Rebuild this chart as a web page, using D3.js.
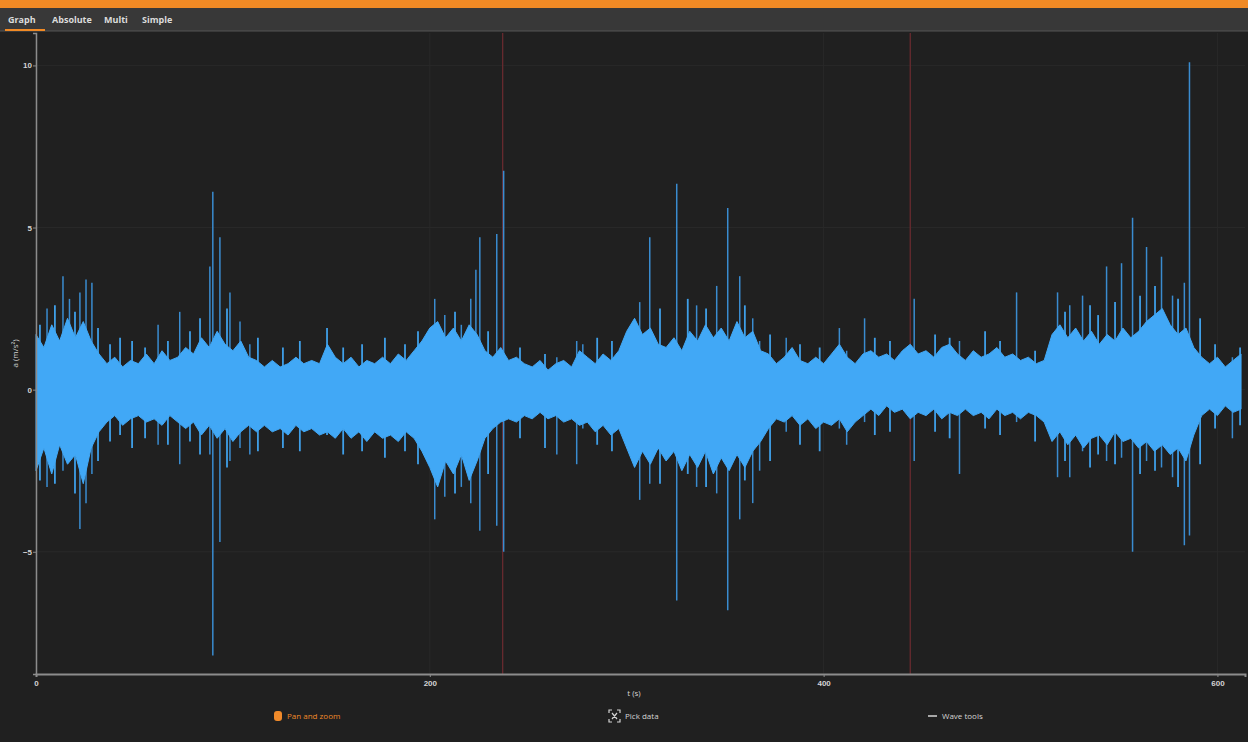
<!DOCTYPE html>
<html>
<head>
<meta charset="utf-8">
<script src="https://cdn.jsdelivr.net/npm/d3@7"></script>
<style>
  html, body { margin: 0; padding: 0; background: #202020; }
  svg { display: block; font-family: "Open Sans", "DejaVu Sans", sans-serif; }
</style>
</head>
<body>
<svg id="graph"></svg>
<script>
// sample times of the envelope (s), every 4 s
const times = d3.range(0, 613, 4);

// upper envelope of the signal (m/s²)
const upper = [
  1.7, 1.3, 2.0, 1.5, 2.2, 1.6, 2.1, 1.5, 1.1, 0.8,
  1.0, 0.7, 0.9, 0.8, 1.1, 0.8, 1.2, 0.9, 1.0, 1.3,
  1.1, 1.6, 1.3, 1.8, 1.4, 1.2, 1.5, 1.0, 0.9, 0.7,
  0.9, 0.7, 0.8, 1.0, 0.8, 0.9, 0.8, 1.4, 1.0, 0.8,
  1.0, 0.7, 0.9, 0.8, 1.0, 0.8, 1.1, 0.9, 1.2, 1.5,
  1.9, 2.1, 1.6, 1.9, 1.5, 2.0, 1.7, 1.2, 1.0, 1.3,
  0.9, 1.0, 0.8, 0.7, 0.9, 0.6, 0.8, 0.9, 0.7, 1.2,
  1.0, 0.8, 1.1, 0.9, 1.2, 1.8, 2.2, 1.7, 1.9, 1.4,
  1.3, 1.6, 1.2, 1.8, 1.5, 2.0, 1.6, 1.9, 1.5, 2.1,
  1.6, 1.8, 1.2, 1.1, 0.8, 1.0, 1.3, 0.9, 0.8, 1.0,
  0.8, 1.1, 1.4, 1.0, 0.8, 1.1, 1.2, 1.0, 1.1, 0.9,
  1.2, 1.4, 1.1, 1.2, 1.0, 1.3, 1.4, 1.1, 0.9, 1.2,
  1.0, 1.1, 1.3, 1.0, 1.1, 0.9, 1.0, 0.8, 0.9, 1.7,
  2.0, 1.6, 1.9, 1.5, 1.8, 1.4, 1.7, 1.5, 1.9, 1.6,
  1.8, 2.1, 2.3, 2.5, 2.0, 1.7, 1.9, 1.3, 1.0, 0.8,
  1.0, 0.7, 0.9, 1.1
];

// lower envelope of the signal (m/s²)
const lower = [
  -2.5, -1.8, -2.6, -1.7, -2.3, -2.0, -2.9, -1.8, -1.3, -1.0,
  -0.8, -1.1, -0.9, -0.8, -1.0, -0.9, -1.1, -0.8, -1.0, -1.2,
  -1.0, -1.4, -1.1, -1.5, -1.2, -1.6, -1.3, -1.1, -1.3, -1.1,
  -1.3, -1.2, -1.4, -1.1, -1.3, -1.2, -1.4, -1.3, -1.5, -1.2,
  -1.5, -1.3, -1.6, -1.3, -1.5, -1.4, -1.6, -1.3, -1.5, -1.9,
  -2.4, -3.0, -2.2, -2.6, -2.0, -2.8, -2.2, -1.5, -1.2, -1.0,
  -0.9, -1.0, -0.8, -0.9, -0.7, -0.9, -0.8, -1.0, -0.9, -1.1,
  -1.0, -1.3, -1.1, -1.4, -1.2, -1.8, -2.4, -1.9, -2.3, -1.8,
  -2.2, -1.9, -2.5, -2.0, -2.4, -1.9, -2.6, -2.1, -2.5, -2.0,
  -2.4, -1.9, -1.6, -1.2, -0.9, -1.0, -0.8, -1.1, -0.9, -1.2,
  -1.0, -1.1, -0.9, -1.3, -1.0, -0.8, -0.6, -0.8, -0.5, -0.7,
  -0.6, -0.9, -0.7, -0.8, -0.6, -0.9, -0.7, -0.8, -0.6, -0.8,
  -0.7, -0.9, -0.6, -0.8, -0.7, -0.9, -0.7, -0.8, -1.0, -1.6,
  -1.3, -1.7, -1.4, -1.8, -1.5, -1.4, -1.7, -1.3, -1.6, -1.5,
  -1.8, -1.6, -1.9, -1.7, -2.0, -1.8, -2.2, -1.4, -0.8, -0.6,
  -0.8, -0.5, -0.7, -0.6
];

// isolated peaks: time (s), max and min (m/s²)
const spikeT  = [5.6, 13.7, 17, 22.3, 25.4, 28.4, 62, 73, 88.3, 89.8, 93.4, 98.5, 103.6, 108.6,
                 202.5, 207.6, 216, 220.8, 223.4, 225.4, 234, 237.5, 264.5, 274.6, 277.7,
                 306.6, 311.7, 325.4, 335.5, 345.7, 351.3, 357.4, 364, 367.5, 381, 408, 411.7,
                 420.8, 446, 469, 498, 518.8, 525, 531.5, 543.7, 551.3, 556.9, 564, 571.6,
                 577.2, 583.2, 585.8, 607.6];
const spikeHi = [2.5, 3.5, 2.8, 3.0, 3.4, 3.3, 2.0, 2.4, 3.8, 6.1, 4.7, 3.0, 2.1, 1.4,
                 2.8, 2.3, 2.0, 2.8, 3.7, 4.7, 4.8, 6.75, 1.0, 1.5, 1.4,
                 2.7, 4.7, 6.35, 2.6, 3.2, 5.6, 3.5, 2.2, 1.5, 1.6, 1.9, 1.2,
                 2.2, 2.8, 1.5, 3.0, 3.0, 2.6, 2.9, 3.8, 3.9, 5.3, 4.4, 4.1,
                 2.9, 3.3, 10.1, 1.0];
const spikeLo = [-3.0, -2.5, -2.0, -4.3, -3.5, -2.6, -1.7, -2.3, -2.0, -8.2, -4.7, -2.2, -1.8, -2.0,
                 -4.0, -3.3, -3.0, -3.5, -2.0, -4.35, -4.2, -5.0, -2.0, -2.3, -1.2,
                 -3.4, -2.9, -6.5, -3.0, -3.2, -6.8, -4.0, -3.5, -2.5, -1.3, -1.2, -1.7,
                 -1.0, -2.2, -2.6, -1.0, -2.7, -2.7, -1.9, -2.2, -2.1, -5.0, -2.2, -2.4,
                 -2.7, -4.8, -4.5, -1.5];

// smaller peaks along the edges of the band: time (s), max and min (m/s²)
const rippleT  = [2, 9.6, 19.8, 31.5, 37.6, 42.7, 48.8, 55.4, 67, 78.2, 83.3, 97, 112.7, 125.4,
                  134, 147.8, 156, 165.6, 177.2, 187.4, 194, 212.8, 229.6, 245.8, 258.5, 285,
                  292.5, 316.9, 331, 340.3, 360, 372.8, 388, 398, 426, 433.7, 456.6, 464, 482,
                  489.6, 507.4, 522.6, 535.3, 539.4, 548, 560.7, 568.3, 580, 591.2, 598.8, 611.5];
const rippleHi = [2.0, 2.6, 2.4, 1.9, 1.4, 1.6, 1.5, 1.3, 1.5, 1.8, 2.2, 2.5, 1.6, 1.3,
                  1.5, 1.9, 1.3, 1.4, 1.6, 1.4, 1.8, 2.4, 1.8, 1.3, 1.1, 1.6,
                  1.5, 2.5, 2.8, 2.5, 2.6, 1.7, 1.4, 1.3, 1.6, 1.5, 1.7, 1.6, 1.8,
                  1.5, 1.2, 2.4, 2.6, 2.3, 2.7, 2.9, 3.2, 2.8, 2.2, 1.4, 1.3];
const rippleLo = [-2.8, -2.9, -3.2, -2.2, -1.6, -1.4, -1.8, -1.5, -1.7, -1.6, -2.0, -2.4, -1.9, -1.8,
                  -1.9, -1.4, -2.0, -1.9, -2.1, -1.9, -2.3, -3.2, -2.6, -1.5, -1.8, -1.7,
                  -1.9, -2.9, -2.6, -3.0, -2.8, -2.2, -1.7, -1.9, -1.4, -1.3, -1.3, -1.5, -1.2,
                  -1.4, -1.6, -2.2, -2.4, -2.0, -2.3, -2.6, -2.5, -3.0, -2.3, -1.2, -1.1];

// red marker lines (s)
const markerT = [237, 444];

const xTicks = [0, 200, 400, 600];
const yTicks = [-5, 0, 5, 10];
const tabs = ['Graph', 'Absolute', 'Multi', 'Simple'];

let w = 1248;
let h = 742;
let pLeft = 36, pRight = 1245, pTop = 33, pBottom = 674;

let svg = d3.select('#graph')
    .attr('width', w)
    .attr('height', h);

// page background
svg.append('rect')
    .attr('width', w)
    .attr('height', h)
    .attr('fill', '#202020');

// orange top strip
svg.append('rect')
    .attr('width', w)
    .attr('height', 8)
    .attr('fill', '#f18a25');

// tab bar
svg.append('rect')
    .attr('y', 8)
    .attr('width', w)
    .attr('height', 23)
    .attr('fill', '#383838');
svg.append('line')
    .attr('x1', 0).attr('x2', w)
    .attr('y1', 31).attr('y2', 31)
    .attr('stroke', '#555')
    .attr('stroke-width', 1);

let tabX = [8, 52, 104, 142];
svg.selectAll('.tab')
    .data(tabs)
    .enter()
    .append('text')
    .classed('tab', true)
    .attr('x', (d, i) => tabX[i])
    .attr('y', 23)
    .attr('font-size', 9)
    .attr('font-weight', 'bold')
    .attr('fill', '#dcdcdc')
    .text(d => d);
svg.append('rect')
    .attr('x', 5).attr('y', 29)
    .attr('width', 40).attr('height', 2)
    .attr('fill', '#f18a25');

let xScale = d3.scaleLinear()
    .domain([0, 614])
    .range([pLeft, pRight]);

let yScale = d3.scaleLinear()
    .domain([-8.77, 11])
    .range([pBottom, pTop]);

// faint grid
svg.append('g')
    .selectAll('line')
    .data(xTicks)
    .enter()
    .append('line')
    .attr('x1', d => xScale(d)).attr('x2', d => xScale(d))
    .attr('y1', pTop).attr('y2', pBottom)
    .attr('stroke', '#292929');
svg.append('g')
    .selectAll('line')
    .data(yTicks)
    .enter()
    .append('line')
    .attr('x1', pLeft).attr('x2', pRight)
    .attr('y1', d => yScale(d)).attr('y2', d => yScale(d))
    .attr('stroke', '#292929');

// marker lines
svg.append('g')
    .selectAll('line')
    .data(markerT)
    .enter()
    .append('line')
    .attr('x1', d => xScale(d)).attr('x2', d => xScale(d))
    .attr('y1', pTop).attr('y2', pBottom)
    .attr('stroke', '#682a2f')
    .attr('stroke-width', 1.3);

// isolated peaks
let spikes = d3.range(spikeT.length).map(i => ({t: spikeT[i], hi: spikeHi[i], lo: spikeLo[i]}));
svg.append('g')
    .selectAll('line')
    .data(spikes)
    .enter()
    .append('line')
    .attr('x1', d => xScale(d.t)).attr('x2', d => xScale(d.t))
    .attr('y1', d => yScale(d.hi)).attr('y2', d => yScale(d.lo))
    .attr('stroke', '#3a8cd0')
    .attr('stroke-width', 1.5);

// smaller peaks
let ripples = d3.range(rippleT.length).map(i => ({t: rippleT[i], hi: rippleHi[i], lo: rippleLo[i]}));
svg.append('g')
    .selectAll('line')
    .data(ripples)
    .enter()
    .append('line')
    .attr('x1', d => xScale(d.t)).attr('x2', d => xScale(d.t))
    .attr('y1', d => yScale(d.hi)).attr('y2', d => yScale(d.lo))
    .attr('stroke', '#3f9fe8')
    .attr('stroke-width', 1.8);

// signal band
let band = times.map((t, i) => ({t: t, hi: upper[i], lo: lower[i]}));
let area = d3.area()
    .x(d => xScale(d.t))
    .y0(d => yScale(d.lo))
    .y1(d => yScale(d.hi));
svg.append('path')
    .datum(band)
    .attr('d', area)
    .attr('fill', '#41a8f6')
    .attr('stroke', '#41a8f6')
    .attr('stroke-width', 1);

//y-axis
let yAxis = d3.axisLeft(yScale)
    .tickValues(yTicks)
    .tickSize(3)
    .tickPadding(1);
let gy = svg.append('g')
    .attr('transform', 'translate(' + pLeft + ',0)')
    .call(yAxis);
gy.select('.domain').attr('stroke', '#8c8c8c').attr('stroke-width', 1.5);
gy.selectAll('.tick line').attr('stroke', '#8c8c8c');
gy.selectAll('text').attr('fill', '#d4d4d4').attr('font-size', 8).attr('font-weight', 'bold');

//x-axis
let xAxis = d3.axisBottom(xScale)
    .tickValues(xTicks)
    .tickSize(3)
    .tickPadding(3);
let gx = svg.append('g')
    .attr('transform', 'translate(0,' + pBottom + ')')
    .call(xAxis);
gx.select('.domain').attr('stroke', '#8c8c8c').attr('stroke-width', 2);
gx.selectAll('.tick line').attr('stroke', '#8c8c8c');
gx.selectAll('text').attr('fill', '#d4d4d4').attr('font-size', 8).attr('font-weight', 'bold');

//x-axis title
svg.append('text')
    .attr('x', 634)
    .attr('y', 696)
    .style('text-anchor', 'middle')
    .attr('font-size', 8)
    .attr('fill', '#d4d4d4')
    .text('t (s)');

//y-axis title
svg.append('text')
    .attr('transform', 'rotate(-90)')
    .attr('x', -(pTop + pBottom) / 2)
    .attr('y', 18)
    .style('text-anchor', 'middle')
    .attr('font-size', 8)
    .attr('fill', '#d4d4d4')
    .text('a (m/s²)');

// bottom tool buttons
let tools = svg.append('g');
// pan and zoom (hand)
tools.append('rect')
    .attr('x', 274).attr('y', 711)
    .attr('width', 8).attr('height', 10)
    .attr('rx', 3)
    .attr('fill', '#f08a2a');
tools.append('text')
    .attr('x', 287).attr('y', 719)
    .attr('font-size', 8)
    .attr('fill', '#f08a2a')
    .text('Pan and zoom');
// pick data (corner brackets)
tools.append('path')
    .attr('d', 'M609,713v-3h3 M617,710h3v3 M620,719v3h-3 M612,722h-3v-3 M612,713l5,6 M617,713l-5,6')
    .attr('fill', 'none')
    .attr('stroke', '#d4d4d4')
    .attr('stroke-width', 1.2);
tools.append('text')
    .attr('x', 625).attr('y', 719)
    .attr('font-size', 8)
    .attr('fill', '#d4d4d4')
    .text('Pick data');
// wave tools
tools.append('line')
    .attr('x1', 928).attr('x2', 937)
    .attr('y1', 716).attr('y2', 716)
    .attr('stroke', '#d4d4d4')
    .attr('stroke-width', 1.5);
tools.append('text')
    .attr('x', 942).attr('y', 719)
    .attr('font-size', 8)
    .attr('fill', '#d4d4d4')
    .text('Wave tools');
</script>
</body>
</html>
